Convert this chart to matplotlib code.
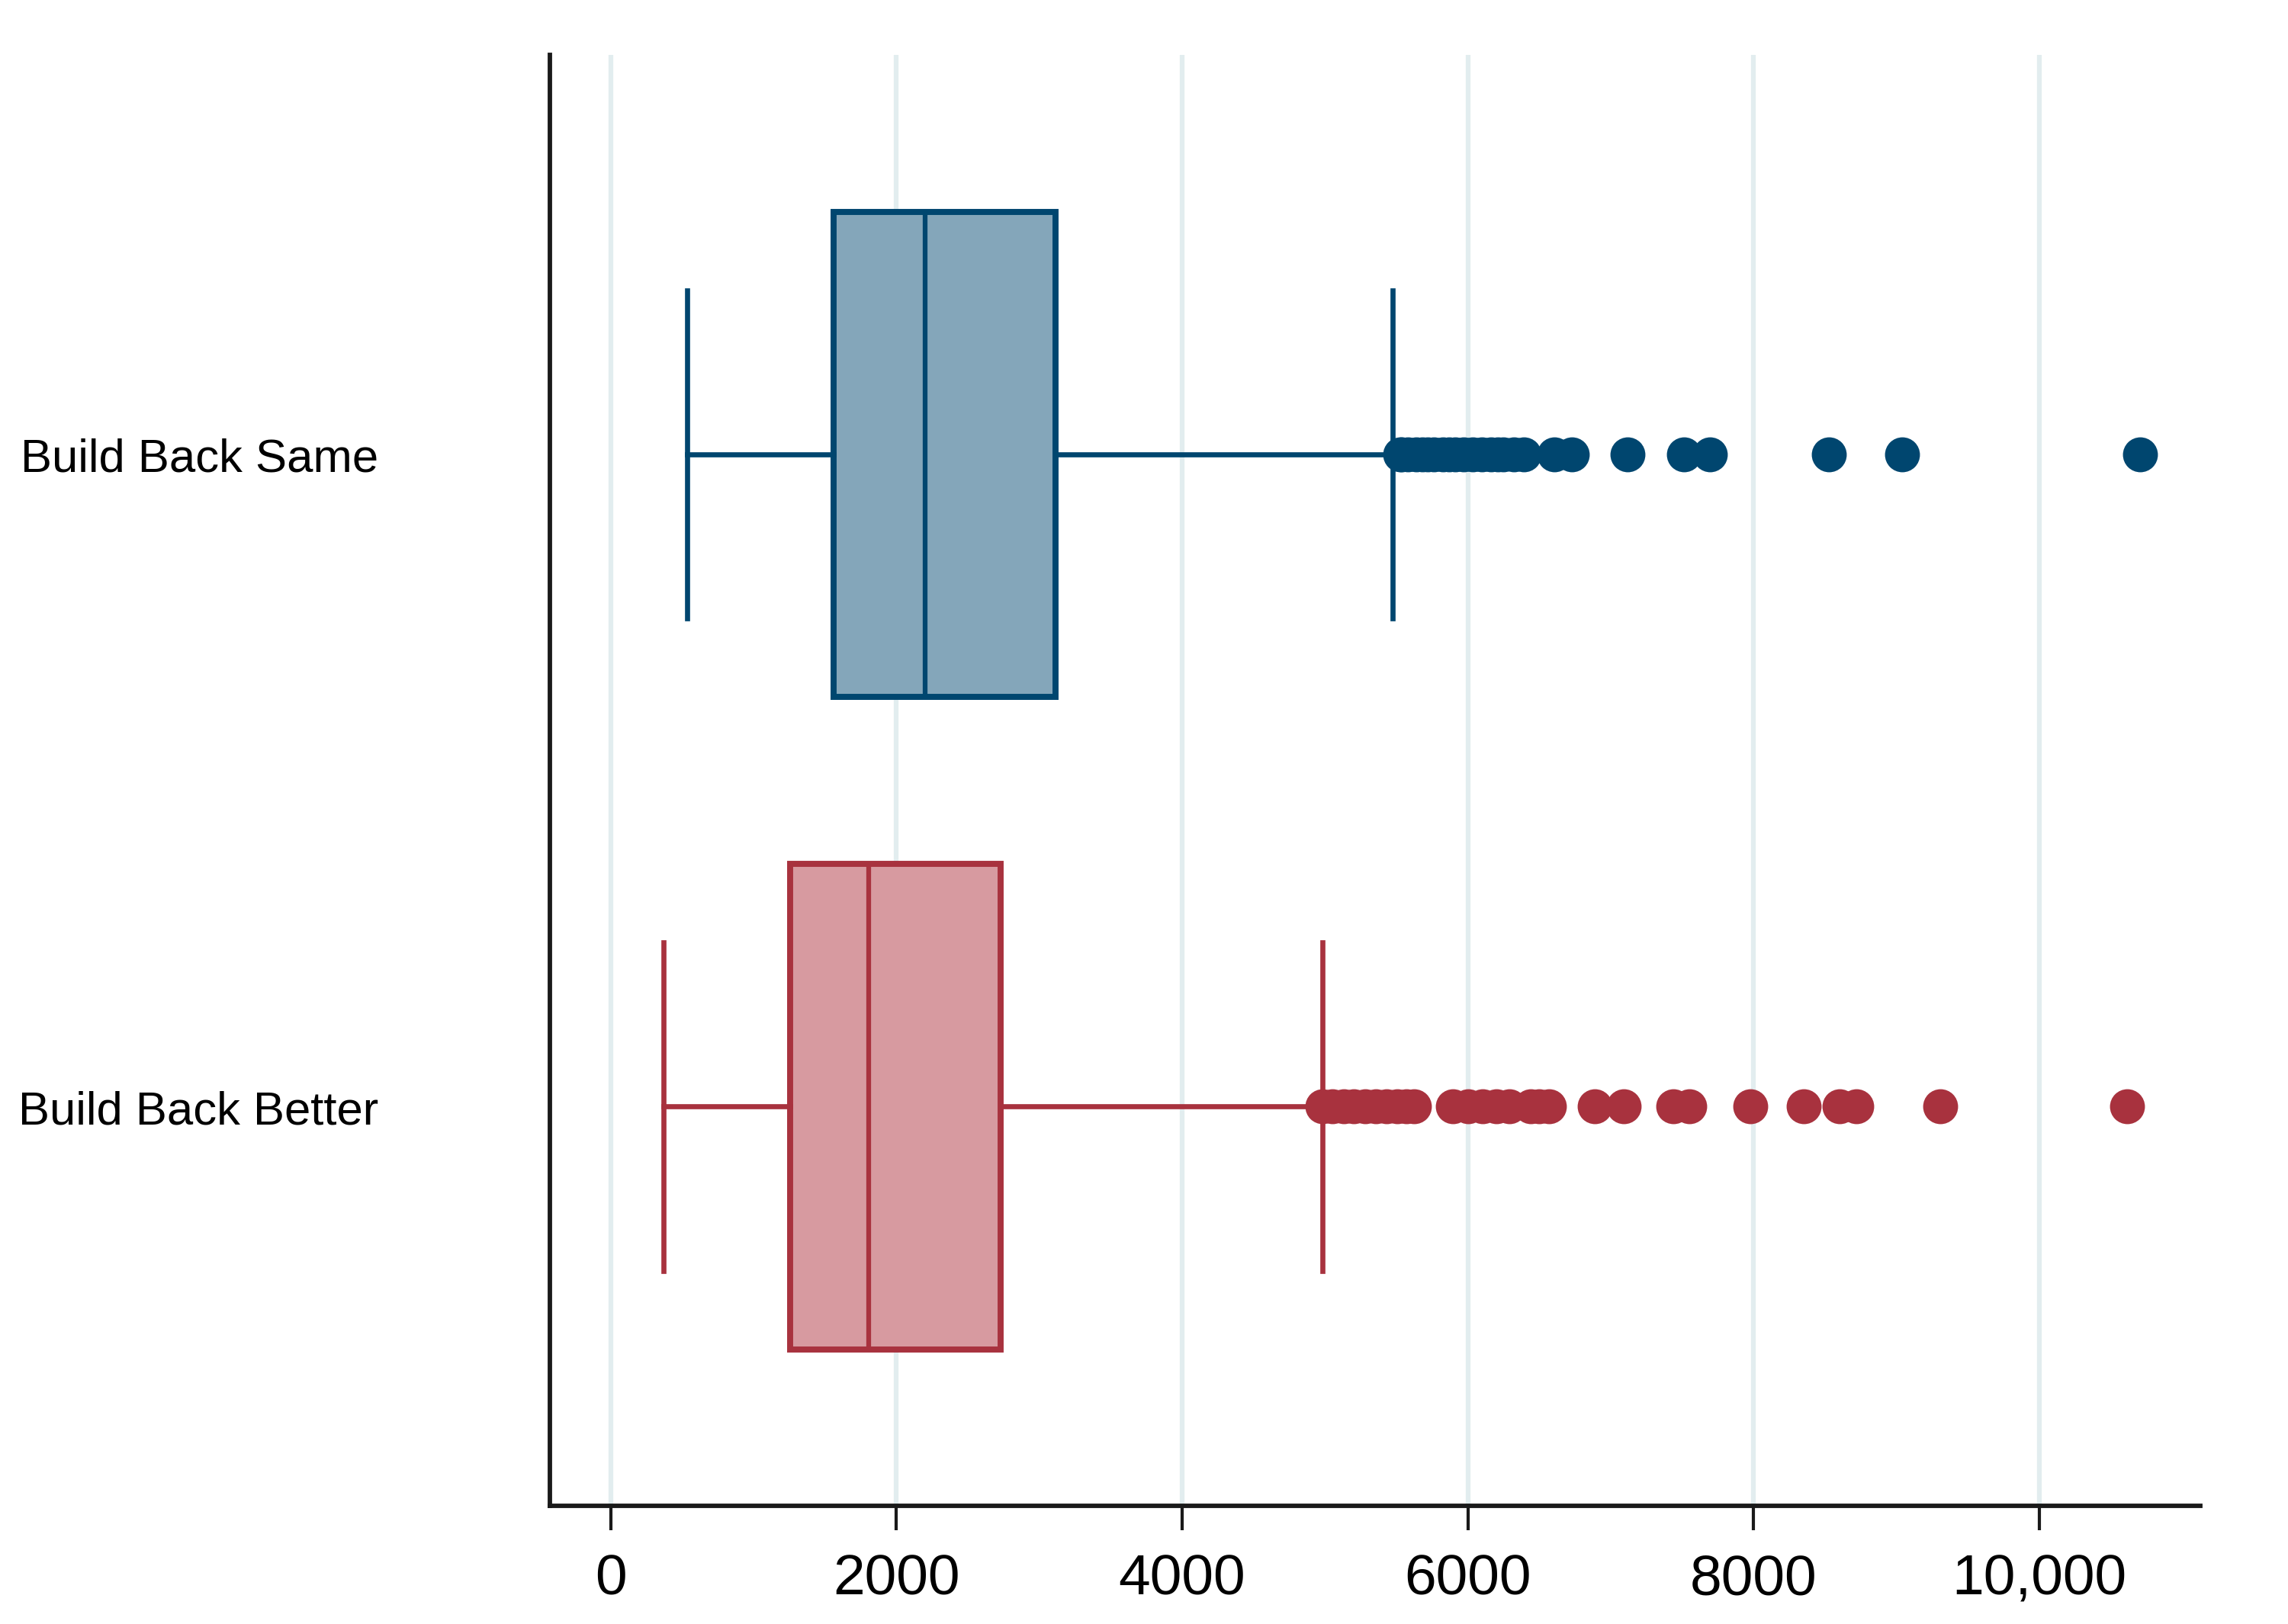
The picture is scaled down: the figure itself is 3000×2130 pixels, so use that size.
import matplotlib
matplotlib.use('Agg')
import matplotlib.pyplot as plt
from matplotlib.ticker import FuncFormatter

plt.rcParams['font.family'] = ['Liberation Sans', 'DejaVu Sans']

# groups, top to bottom
groups = ["Build Back Same", "Build Back Better"]

# box statistics
q1 = [1563, 1255]
median = [2202, 1806]
q3 = [3113, 2729]
whisker_lo = [535, 371]
whisker_hi = [5471, 4981]

# outside values
outliers_same = [5527, 5539, 5580, 5640, 5681, 5720, 5760, 5823, 5870, 5912,
                 5970, 6036, 6100, 6160, 6210, 6249, 6320, 6391, 6605, 6729,
                 7120, 7510, 7696, 8526, 9038, 10705]
outliers_better = [4981, 5050, 5130, 5200, 5280, 5354, 5430, 5504, 5570, 5625,
                   5895, 6000, 6101, 6200, 6288, 6437, 6500, 6569, 6886, 7091,
                   7437, 7550, 7977, 8348, 8602, 8719, 9305, 10614]

x_ticks = [0, 2000, 4000, 6000, 8000, 10000]

edge_colors = ['#00466f', '#a8323e']
fill_colors = ['#84a6ba', '#d79aa0']  # opaque, so grid lines stay hidden

fig = plt.figure(figsize=(10, 7.103), dpi=300)
ax = fig.add_axes([0.2403, 0.0727, 0.9617 - 0.2403, 0.9657 - 0.0727])

fliers = [outliers_same, outliers_better]
positions = [2, 1]

for i in range(len(groups)):
    stats = [dict(med=median[i], q1=q1[i], q3=q3[i],
                  whislo=whisker_lo[i], whishi=whisker_hi[i],
                  fliers=fliers[i], label=groups[i])]
    c = edge_colors[i]
    ax.bxp(stats, positions=[positions[i]], orientation='horizontal',
           widths=0.744, capwidths=0.503, patch_artist=True,
           boxprops=dict(facecolor=fill_colors[i], edgecolor=c, linewidth=1.9),
           medianprops=dict(color=c, linewidth=1.5),
           whiskerprops=dict(color=c, linewidth=1.6),
           capprops=dict(color=c, linewidth=1.6),
           flierprops=dict(marker='o', markersize=11, markerfacecolor=c,
                           markeredgecolor='none', linestyle='none'),
           zorder=3)

ax.set_xlim(-426, 11127)
ax.set_ylim(0.388, 2.612)

ax.set_xticks(x_ticks)
ax.xaxis.set_major_formatter(FuncFormatter(
    lambda v, p: f"{int(v):,}" if v >= 10000 else f"{int(v)}"))
ax.set_yticks(positions)
ax.set_yticklabels(groups)

ax.tick_params(axis='x', length=7.7, width=1.0, pad=7, labelsize=18,
               color='#1a1a1a')
ax.tick_params(axis='y', length=0, pad=54, labelsize=14.8)

ax.grid(axis='x', color='#e2edef', linewidth=1.5, zorder=0)
ax.set_axisbelow(True)

for side in ['top', 'right']:
    ax.spines[side].set_visible(False)
for side in ['left', 'bottom']:
    ax.spines[side].set_linewidth(1.4)
    ax.spines[side].set_color('#1a1a1a')

fig.savefig('out.png', dpi=300)
plt.close(fig)
